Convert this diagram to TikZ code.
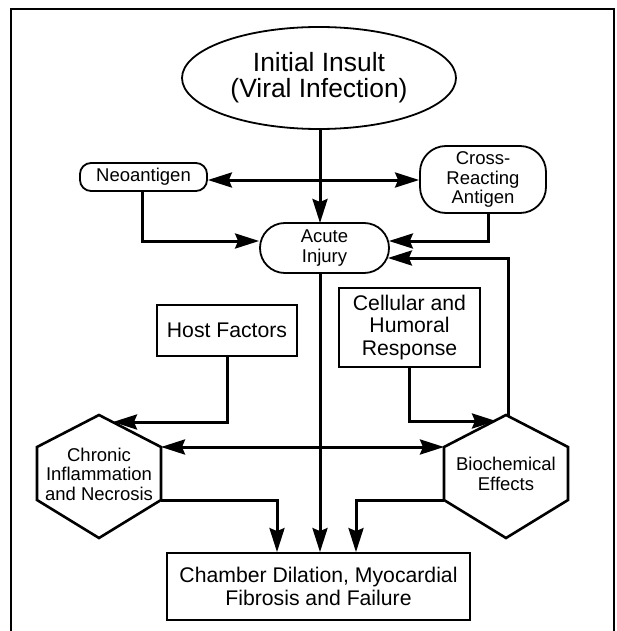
\documentclass[tikz,border=0pt]{standalone}
\usepackage{fontspec}
\setmainfont{Liberation Sans}
\usetikzlibrary{arrows.meta,shapes.geometric}
\tikzset{
  big/.style={font=\fontsize{26.4}{26}\selectfont},
  mid/.style={font=\fontsize{21.2}{22.5}\selectfont},
  sml/.style={font=\fontsize{18.5}{19.5}\selectfont},
  conn/.style={line width=3pt},
  tip/.tip={Stealth[length=24pt,width=15pt,inset=3pt]},
  arr/.style={conn,-tip},
  dbl/.style={conn,tip-tip},
  sqbox/.style={draw,line width=1.8pt,inner sep=0pt,align=center},
  rbox/.style={draw,line width=1.8pt,inner sep=0pt,align=center},
  hex/.style={draw,line width=2.6pt,line join=miter},
}
\begin{document}
\begin{tikzpicture}[x=1pt,y=-1pt]
\useasboundingbox (0,0) rectangle (616,631);
% frame
\draw[line width=1.6pt] (11,645) -- (11,9) -- (614,9) -- (614,645);

% nodes
\node[ellipse,draw,line width=1.8pt,minimum width=274pt,minimum height=102pt,inner sep=0pt,align=center,big] (insult) at (319,78) {Initial Insult\\(Viral Infection)};
\node[rbox,sml,rounded corners=11pt,minimum width=127pt,minimum height=28pt] (neo) at (143.5,177) {Neoantigen};
\node[rbox,sml,rounded corners=26pt,minimum width=126pt,minimum height=67pt] (cross) at (483,179.5) {Cross-\\Reacting\\Antigen};
\node[rbox,sml,rounded corners=24.9pt,minimum width=129pt,minimum height=50pt] (acute) at (324.5,248) {Acute\\Injury};
\node[sqbox,mid,minimum width=140pt,minimum height=51pt] (host) at (227,330.5) {Host Factors};
\node[sqbox,mid,minimum width=141pt,minimum height=79pt] (cell) at (409.5,327.5) {Cellular and\\Humoral\\Response};
\node[sqbox,mid,minimum width=303pt,minimum height=67pt] (chamber) at (318.5,586.5) {Chamber Dilation, Myocardial\\Fibrosis and Failure};

% hexagons
\coordinate (chT) at (99,415);
\coordinate (chUR) at (161,447);
\coordinate (chLR) at (161,500);
\coordinate (chB) at (99,538);
\coordinate (chLL) at (37,500);
\coordinate (chUL) at (37,447);
\draw[hex] (chT) -- (chUR) -- (chLR) -- (chB) -- (chLL) -- (chUL) -- cycle;
\node[sml,align=center,inner sep=0pt] (chronic) at (99,474) {Chronic\\Inflammation\\and Necrosis};

\coordinate (biT) at (506,415);
\coordinate (biUR) at (568,447);
\coordinate (biLR) at (568,500);
\coordinate (biB) at (506,538);
\coordinate (biLL) at (444,500);
\coordinate (biUL) at (444,447);
\draw[hex] (biT) -- (biUR) -- (biLR) -- (biB) -- (biLL) -- (biUL) -- cycle;
\node[sml,align=center,inner sep=0pt] (bio) at (506,474) {Biochemical\\Effects};

% hexagon edge points for arrow tips
\coordinate (chIn) at (113,422);
\coordinate (biIn) at (496,421);
\coordinate (biTop) at (508,416);

% connectors
\draw[arr] (insult.south -| 320,0) -- (320,223);
\draw[dbl] (neo.east |- 0,180) -- (cross.west |- 0,180);
\draw[arr] (142,190) -- (142,241) -- (acute.west |- 0,241);
\draw[arr] (488,213) -- (488,241) -- ([xshift=-1pt]acute.east |- 0,241);
\draw[arr] (biTop) -- (508,258) -- ([xshift=-2pt]acute.east |- 0,258);
\draw[arr] (acute.south -| 320,0) -- (chamber.north -| 320,0);
\draw[arr] (host.south) -- (host.south |- chIn) -- (chIn);
\draw[arr] (cell.south) -- (cell.south |- biIn) -- (biIn);
\draw[dbl] (chUR) -- (biUL);
\draw[arr] (chLR) -- (277,500) -- (chamber.north -| 277,0);
\draw[arr] (biLL) -- (356,500) -- (chamber.north -| 356,0);
\end{tikzpicture}
\end{document}
